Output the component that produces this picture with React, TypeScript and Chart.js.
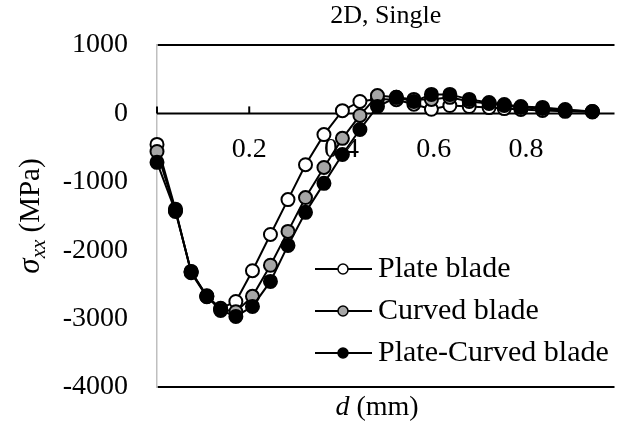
import React, { useEffect, useRef } from "react";
import { Chart, registerables } from "chart.js";

Chart.register(...registerables);

const chartTitle = "2D, Single";
const legendLabels = ["Plate blade", "Curved blade", "Plate-Curved blade"];
const dValues = [0, 0.04, 0.074, 0.108, 0.138, 0.171, 0.207, 0.246, 0.284, 0.322, 0.362, 0.402, 0.44, 0.478, 0.519, 0.557, 0.595, 0.635, 0.677, 0.72, 0.753, 0.789, 0.836, 0.885, 0.944];
const plateBlade = [-453, -1400, -2330, -2680, -2850, -2750, -2300, -1770, -1260, -750, -310, 40, 175, 210, 200, 135, 60, 115, 100, 85, 70, 58, 44, 30, 22];
const curvedBlade = [-556, -1420, -2315, -2665, -2860, -2900, -2675, -2220, -1725, -1230, -790, -365, -30, 260, 235, 205, 205, 235, 175, 145, 115, 88, 72, 45, 28];
const plateCurvedBlade = [-716, -1433, -2310, -2675, -2880, -2968, -2822, -2456, -1930, -1447, -1023, -600, -235, 100, 235, 175, 278, 278, 205, 160, 130, 100, 88, 58, 29];
const xTicks = [0.2, 0.4, 0.6, 0.8];
const yTicks = [1000, 0, -1000, -2000, -3000, -4000];

const fills = ["#ffffff", "#a6a6a6", "#000000"];
const FONT = "'Liberation Serif', 'Times New Roman', serif";

export default function App() {
  const ref = useRef<HTMLCanvasElement | null>(null);

  useEffect(() => {
    const canvas = ref.current;
    if (!canvas) return;
    const series = [plateBlade, curvedBlade, plateCurvedBlade];

    const overlay = {
      id: "overlay",
      beforeDatasetsDraw(chart: any) {
        const ctx = chart.ctx;
        const ca = chart.chartArea;
        const xs = chart.scales.x;
        const ys = chart.scales.y;
        const y0 = ys.getPixelForValue(0);
        ctx.save();
        ctx.strokeStyle = "#000";
        ctx.lineWidth = 2;
        // horizontal axis at zero
        ctx.beginPath();
        ctx.moveTo(ca.left, y0);
        ctx.lineTo(ca.right, y0);
        ctx.stroke();
        [0, ...xTicks].forEach((v) => {
          const px = xs.getPixelForValue(v);
          ctx.beginPath();
          ctx.moveTo(px, y0);
          ctx.lineTo(px, y0 - 7);
          ctx.stroke();
        });
        // x tick labels
        ctx.fillStyle = "#000";
        ctx.font = `28px ${FONT}`;
        ctx.textAlign = "center";
        ctx.textBaseline = "middle";
        xTicks.forEach((v) => {
          ctx.fillText(v.toFixed(1), xs.getPixelForValue(v), y0 + 36);
        });
        ctx.restore();
      },
      afterDraw(chart: any) {
        const ctx = chart.ctx;
        const ca = chart.chartArea;
        ctx.save();
        ctx.fillStyle = "#000";
        // title
        ctx.font = `26px ${FONT}`;
        ctx.textAlign = "center";
        ctx.textBaseline = "middle";
        ctx.fillText(chartTitle, (ca.left + ca.right) / 2, 16);
        // x title
        ctx.font = `italic 28px ${FONT}`;
        const dW = ctx.measureText("d").width;
        ctx.font = `28px ${FONT}`;
        const restW = ctx.measureText(" (mm)").width;
        const sx = 377 - (dW + restW) / 2;
        ctx.textAlign = "left";
        ctx.font = `italic 28px ${FONT}`;
        ctx.fillText("d", sx, 408);
        ctx.font = `28px ${FONT}`;
        ctx.fillText(" (mm)", sx + dW, 408);
        // y title
        ctx.translate(30, 216);
        ctx.rotate(-Math.PI / 2);
        ctx.font = `italic 31px ${FONT}`;
        const sW = ctx.measureText("σ").width;
        ctx.font = `italic 21px ${FONT}`;
        const xxW = ctx.measureText("xx").width;
        ctx.font = `29px ${FONT}`;
        const mW = ctx.measureText(" (MPa)").width;
        const tx = -(sW + xxW + mW) / 2;
        ctx.textBaseline = "alphabetic";
        ctx.font = `italic 31px ${FONT}`;
        ctx.fillText("σ", tx, 9);
        ctx.font = `italic 21px ${FONT}`;
        ctx.fillText("xx", tx + sW, 15);
        ctx.font = `29px ${FONT}`;
        ctx.fillText(" (MPa)", tx + sW + xxW, 9);
        ctx.restore();

        // legend
        ctx.save();
        const rows = [269, 311, 353];
        rows.forEach((ry, i) => {
          ctx.strokeStyle = "#000";
          ctx.lineWidth = 2;
          ctx.beginPath();
          ctx.moveTo(315, ry);
          ctx.lineTo(372, ry);
          ctx.stroke();
          ctx.beginPath();
          ctx.arc(343, ry, 5, 0, Math.PI * 2);
          ctx.fillStyle = fills[i];
          ctx.fill();
          ctx.lineWidth = 1.5;
          ctx.stroke();
          ctx.fillStyle = "#000";
          ctx.font = `30px ${FONT}`;
          ctx.textAlign = "left";
          ctx.textBaseline = "middle";
          ctx.fillText(legendLabels[i], 378, ry);
        });
        ctx.restore();
      },
    };

    const chart = new Chart(canvas, {
      type: "line",
      data: {
        datasets: series.map((s, i) => ({
          label: legendLabels[i],
          data: s.map((v, k) => ({ x: dValues[k], y: v })),
          borderColor: "#000",
          borderWidth: 2,
          backgroundColor: fills[i],
          pointBackgroundColor: fills[i],
          pointBorderColor: "#000",
          pointBorderWidth: 2,
          pointRadius: 6.5,
          tension: 0,
          clip: false as any,
          order: 3 - i,
        })),
      },
      options: {
        animation: false,
        responsive: false,
        devicePixelRatio: 1,
        layout: { padding: { left: 0, top: 45, right: 0, bottom: 38 } },
        plugins: { legend: { display: false }, tooltip: { enabled: false } },
        scales: {
          x: {
            type: "linear",
            display: false,
            min: 0,
            max: 0.992,
          },
          y: {
            type: "linear",
            min: -4000,
            max: 1000,
            afterBuildTicks: (scale: any) => {
              scale.ticks = yTicks.map((v) => ({ value: v }));
            },
            afterFit: (scale: any) => {
              scale.width = 157;
              scale.paddingTop = 0;
              scale.paddingBottom = 0;
            },
            grid: {
              drawTicks: false,
              color: (c: any) => (c.tick && (c.tick.value === 1000 || c.tick.value === -4000) ? "#000" : "rgba(0,0,0,0)"),
              lineWidth: 2,
            },
            border: { display: true, color: "#bfbfbf", width: 1.5 },
            ticks: {
              color: "#000",
              font: { family: FONT, size: 28 },
              padding: 29,
              callback: (v: any) => String(v),
            },
          },
        },
      },
      plugins: [overlay],
    });

    return () => chart.destroy();
  }, []);

  return (
    <div style={{ position: "fixed", left: 0, top: 0, width: 623, height: 425, background: "#fff" }}>
      <canvas ref={ref} width={623} height={425} />
    </div>
  );
}
